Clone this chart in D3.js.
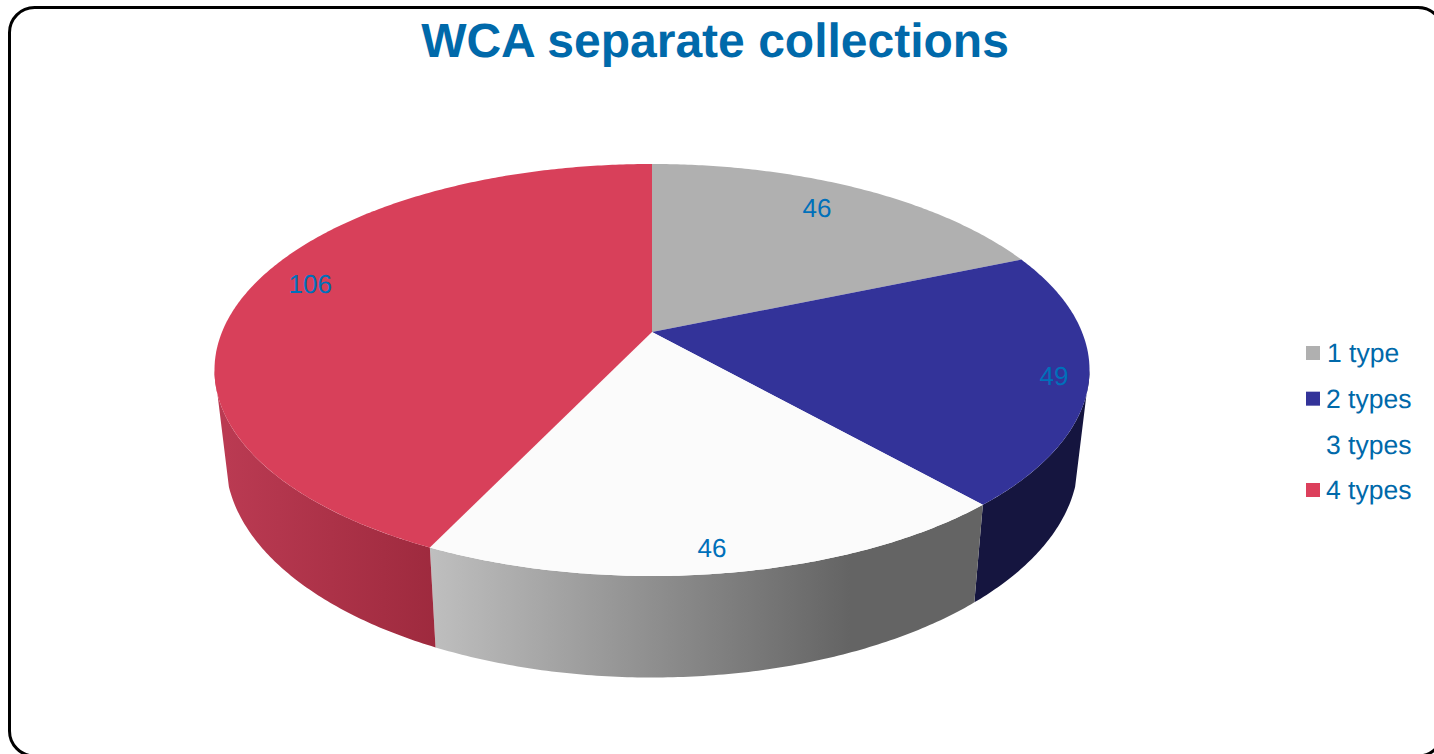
<!DOCTYPE html>
<html>
<head>
<meta charset="utf-8">
<title>WCA separate collections</title>
<script src="https://cdn.jsdelivr.net/npm/d3@7"></script>
<style>
    html, body { margin: 0; padding: 0; background: #fff; overflow: hidden; }
    text { font-family: "Liberation Sans", Arial, sans-serif; text-rendering: geometricPrecision; }
</style>
</head>
<body>
<div id="chart"></div>
<script>
// Chart data
const categories = ['1 type', '2 types', '3 types', '4 types'];
const values = [46, 49, 46, 106];
const topColors = ['#b0b0b0', '#333399', '#fbfbfb', '#d8405a'];
const legendColors = ['#b0b0b0', '#333399', '#ffffff', '#dc3f5c'];
// wall shading, left to right
const wallColors = [['#6e6e6e', '#6e6e6e'], ['#15153f', '#15153f'], ['#bfbfbf', '#646464'], ['#ba3a52', '#9e2a3e']];
// where each value label sits: fraction of the radius, degrees off the slice middle
const labelRadius = [0.827, 0.923, 0.912, 0.87];
const labelNudge = [-1.9, 0.5, 0.7, 4.2];

const width = 1434;
const height = 754;
const blue = '#0069aa';

const svg = d3.select('#chart')
    .append('svg')
    .attr('width', width)
    .attr('height', height);

// Frame runs off the right and bottom of the picture
svg.append('rect')
    .attr('x', 9.5)
    .attr('y', 7.5)
    .attr('width', 1433.5)
    .attr('height', 748.5)
    .attr('rx', 25)
    .attr('fill', '#fff')
    .attr('stroke', '#000')
    .attr('stroke-width', 3);

svg.append('text')
    .attr('x', 715)
    .attr('y', 57)
    .attr('text-anchor', 'middle')
    .style('font-size', '48px')
    .style('font-weight', 'bold')
    .style('fill', blue)
    .text('WCA separate collections');

// Perspective of the disc: top face and the smaller bottom face
const persp = 0.1845;
const topFace = { cx: 652, cy: 332, rx: 430, ry: 199 };
const bottomFace = { cx: 652, cy: 420, rx: 419, ry: 210 };

function project(face, angle, r = 1) {
    const u = r * Math.sin(angle);
    const v = -r * Math.cos(angle);
    const d = 1 - persp * v;
    return [face.cx + face.rx * u / d, face.cy + face.ry * v / d];
}

function arcAngles(a0, a1) {
    const n = Math.max(2, Math.ceil(Math.abs(a1 - a0) / 0.01));
    return d3.range(n + 1).map(i => a0 + (a1 - a0) * i / n);
}

const line = d3.line();
const pie = d3.pie().sort(null).startAngle(0).endAngle(2 * Math.PI);
const slices = pie(values);

// Only the front of the wall shows. The silhouette runs from the side tangent
// of the top rim to a point a little further round on the bottom rim
const wallStart = Math.acos(-persp);
const wallEnd = 2 * Math.PI - wallStart;
const floorStart = Math.acos(-0.3);
const floorEnd = 2 * Math.PI - floorStart;

const defs = svg.append('defs');
wallColors.forEach((c, i) => {
    const g = defs.append('linearGradient')
        .attr('id', 'wall' + i)
        .attr('gradientUnits', 'userSpaceOnUse')
        .attr('x1', i === 2 ? 430 : i === 3 ? 226 : 975)
        .attr('x2', i === 2 ? 850 : i === 3 ? 436 : 1078)
        .attr('y1', 0)
        .attr('y2', 0);
    g.append('stop').attr('offset', '0%').attr('stop-color', c[0]);
    g.append('stop').attr('offset', '100%').attr('stop-color', c[1]);
});

// Walls
svg.append('g')
    .selectAll('path')
    .data(slices.filter(d => d.endAngle > wallStart && d.startAngle < wallEnd))
    .enter()
    .append('path')
    .attr('d', d => {
        const top = arcAngles(Math.max(d.startAngle, wallStart), Math.min(d.endAngle, wallEnd))
            .map(a => project(topFace, a));
        const bottom = arcAngles(Math.min(d.endAngle, floorEnd), Math.max(d.startAngle, floorStart))
            .map(a => project(bottomFace, a));
        return line(top.concat(bottom)) + 'Z';
    })
    .attr('fill', d => `url(#wall${d.index})`);

// Top face
svg.append('g')
    .selectAll('path')
    .data(slices)
    .enter()
    .append('path')
    .attr('d', d => {
        const rim = arcAngles(d.startAngle, d.endAngle).map(a => project(topFace, a));
        return line([project(topFace, 0, 0)].concat(rim)) + 'Z';
    })
    .attr('fill', d => topColors[d.index]);

// Value labels
svg.append('g')
    .selectAll('text')
    .data(slices)
    .enter()
    .append('text')
    .attr('transform', d => {
        const mid = (d.startAngle + d.endAngle) / 2 + labelNudge[d.index] * Math.PI / 180;
        return `translate(${project(topFace, mid, labelRadius[d.index])})`;
    })
    .attr('text-anchor', 'middle')
    .attr('dy', '.35em')
    .style('font-size', '26px')
    .style('fill', '#0070ba')
    .text(d => d.value);

// Legend
const legendY = d3.scalePoint().domain(categories).range([353, 490]);
const legend = svg.append('g')
    .selectAll('g')
    .data(categories)
    .enter()
    .append('g')
    .attr('transform', d => `translate(1306,${legendY(d)})`);

legend.append('rect')
    .attr('y', -7)
    .attr('width', 14)
    .attr('height', 14)
    .attr('fill', (d, i) => legendColors[i]);

legend.append('text')
    .attr('x', (d, i) => i === 0 ? 21 : 20)
    .attr('dy', '.35em')
    .style('font-size', '26.5px')
    .style('fill', blue)
    .text(d => d);
</script>
</body>
</html>
